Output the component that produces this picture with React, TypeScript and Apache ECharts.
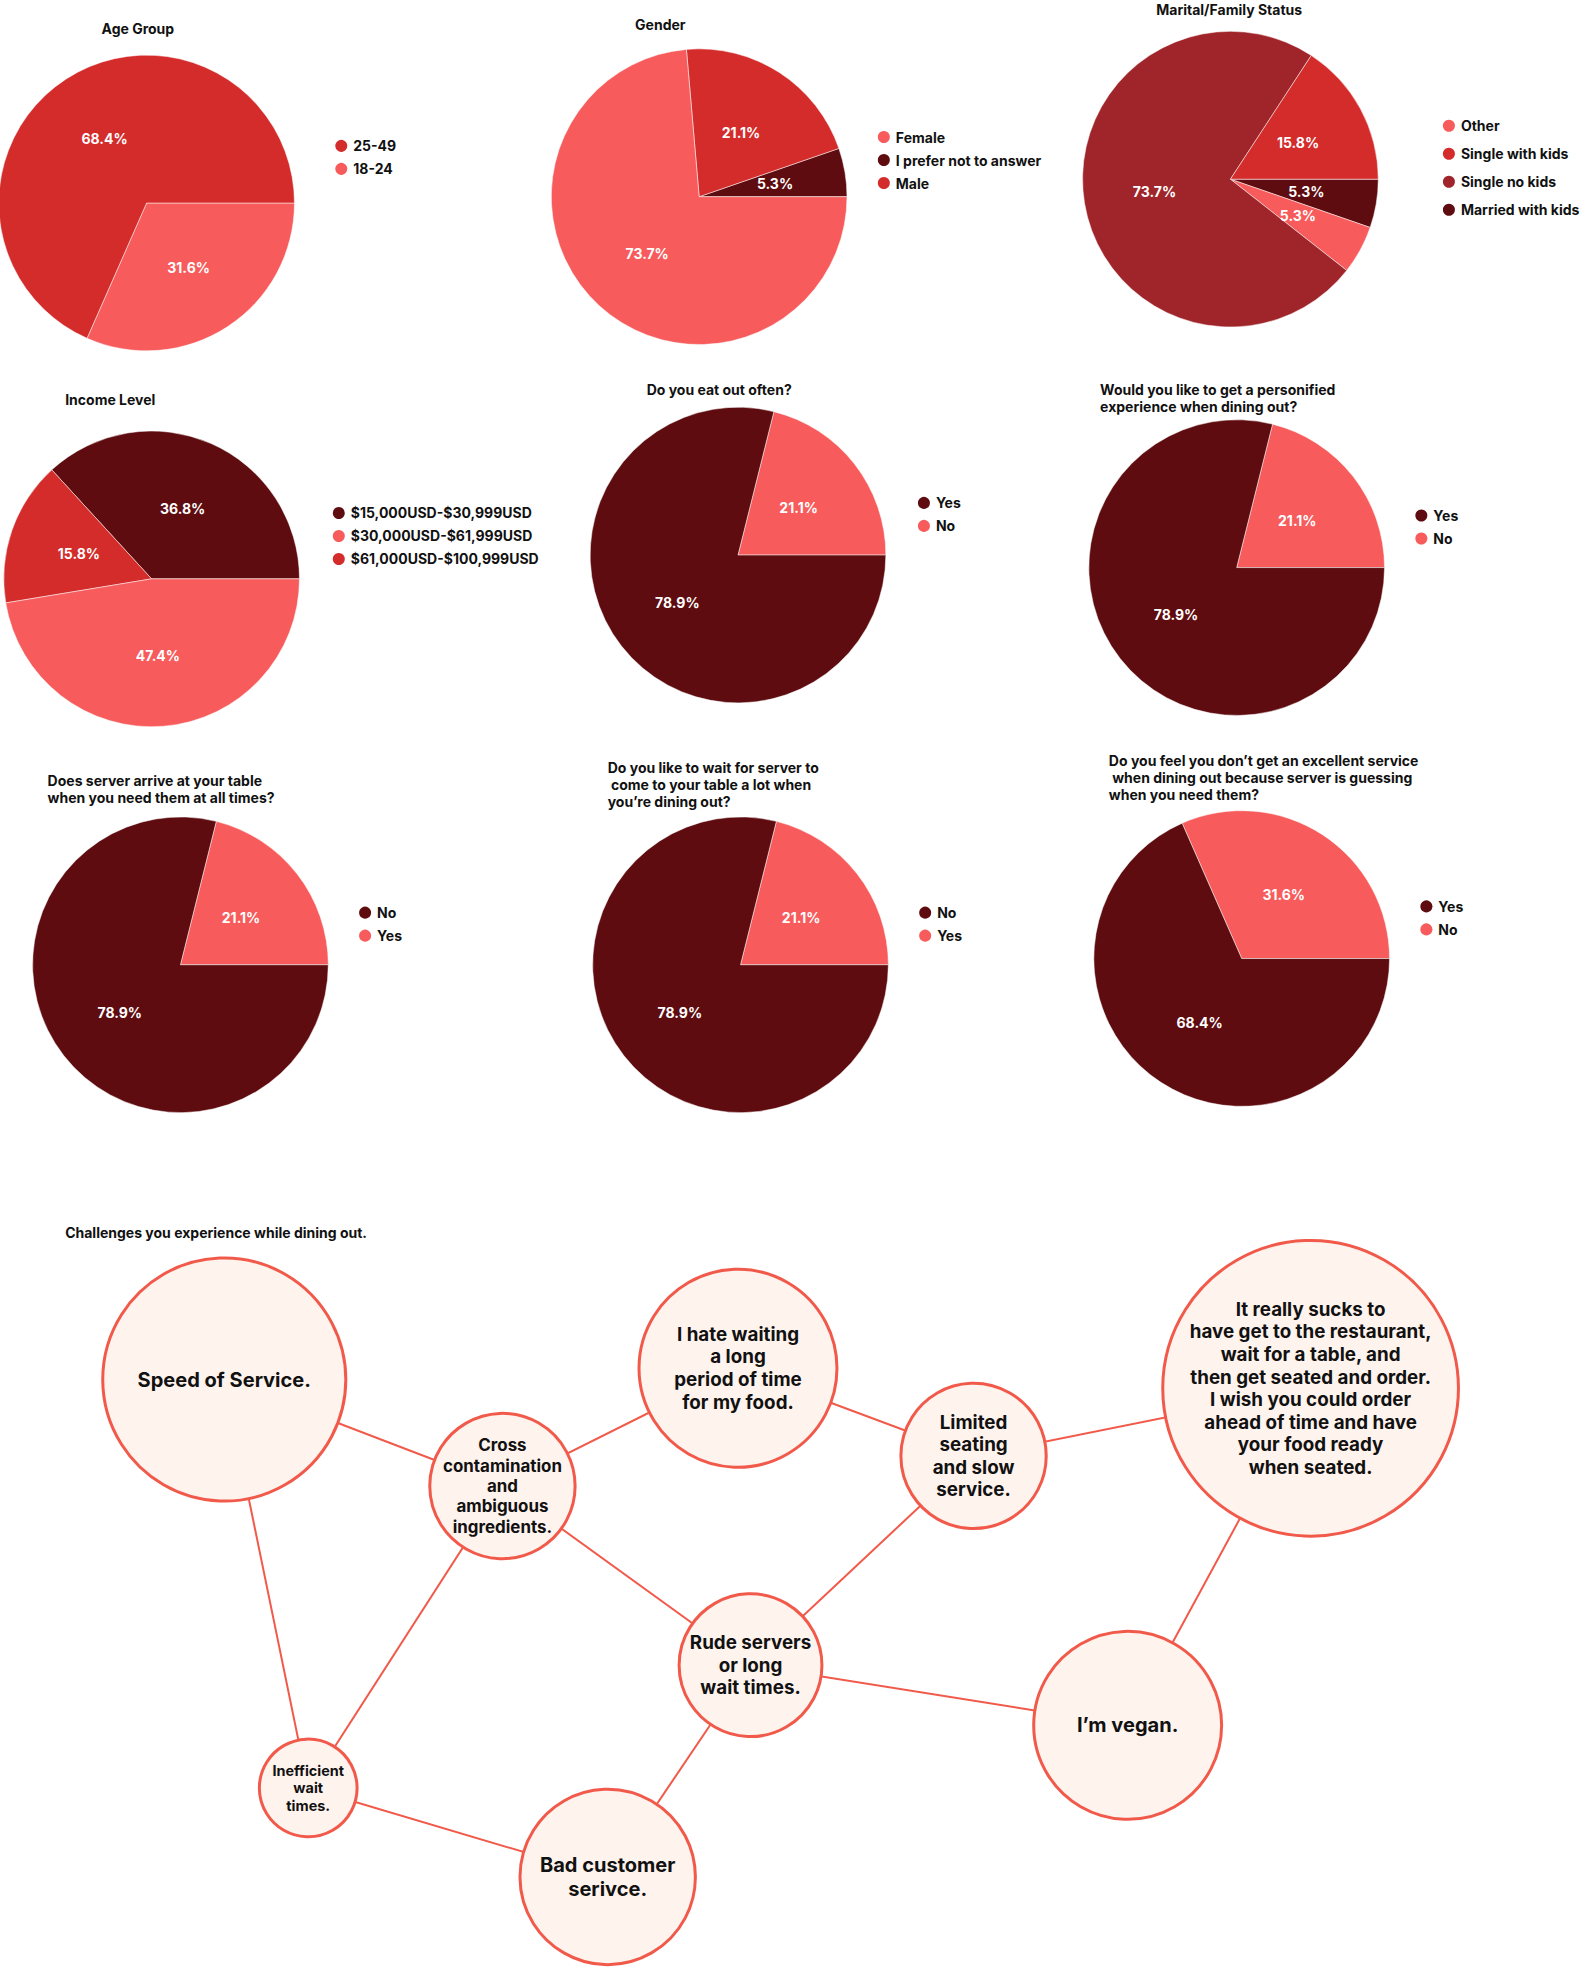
import { useEffect, useRef } from "react";
import * as echarts from "echarts";

// reference was laid out at ~1265px wide; scale to the 1585px page
const S = 1585 / 1265;

const PINK = "#F75B5B";
const RED = "#D42B2B";
const MAROON = "#A0252A";
const DARK = "#5E0C0F";
const LINE = "#F15A4A";

const ageNames = ["18-24", "25-49"];
const ageValues = [31.6, 68.4];
const genderNames = ["I prefer not to answer", "Male", "Female"];
const genderValues = [5.3, 21.1, 73.7];
const maritalNames = ["Married with kids", "Other", "Single no kids", "Single with kids"];
const maritalValues = [5.3, 5.3, 73.7, 15.8];
const incomeNames = ["$15,000USD-$30,999USD", "$61,000USD-$100,999USD", "$30,000USD-$61,999USD"];
const incomeValues = [36.8, 15.8, 47.4];
const yesNoValues = [21.1, 78.9];
const excellentValues = [31.6, 68.4];

type PieDef = {
  title: string;
  tx: number; ty: number; align: "left" | "center";
  cx: number; cy: number;
  lx: number; ly: number; gap: number;
  names: string[]; values: number[]; colors: string[];
  legend: string[];
  clockwise: boolean;
};

const pies: PieDef[] = [
  { title: "Age Group", tx: 110, ty: 16, align: "center", cx: 117, cy: 162, lx: 266, ly: 110, gap: 7,
    names: ageNames, values: ageValues, colors: [PINK, RED], legend: ["25-49", "18-24"], clockwise: true },
  { title: "Gender", tx: 527, ty: 13, align: "center", cx: 558, cy: 157, lx: 699, ly: 103, gap: 7,
    names: genderNames, values: genderValues, colors: [DARK, RED, PINK],
    legend: ["Female", "I prefer not to answer", "Male"], clockwise: false },
  { title: "Marital/Family Status", tx: 981, ty: 1, align: "center", cx: 982, cy: 143, lx: 1150, ly: 94, gap: 12,
    names: maritalNames, values: maritalValues, colors: [DARK, PINK, MAROON, RED],
    legend: ["Other", "Single with kids", "Single no kids", "Married with kids"], clockwise: true },
  { title: "Income Level", tx: 88, ty: 312, align: "center", cx: 121, cy: 462, lx: 264, ly: 403, gap: 7,
    names: incomeNames, values: incomeValues, colors: [DARK, RED, PINK],
    legend: ["$15,000USD-$30,999USD", "$30,000USD-$61,999USD", "$61,000USD-$100,999USD"], clockwise: false },
  { title: "Do you eat out often?", tx: 574, ty: 304, align: "center", cx: 589, cy: 443, lx: 731, ly: 395, gap: 7,
    names: ["No", "Yes"], values: yesNoValues, colors: [PINK, DARK], legend: ["Yes", "No"], clockwise: false },
  { title: "Would you like to get a personified\nexperience when dining out?", tx: 878, ty: 304, align: "left",
    cx: 987, cy: 453, lx: 1128, ly: 405, gap: 7,
    names: ["No", "Yes"], values: yesNoValues, colors: [PINK, DARK], legend: ["Yes", "No"], clockwise: false },
  { title: "Does server arrive at your table\nwhen you need them at all times?", tx: 38, ty: 616, align: "left",
    cx: 144, cy: 770, lx: 285, ly: 722, gap: 7,
    names: ["Yes", "No"], values: yesNoValues, colors: [PINK, DARK], legend: ["No", "Yes"], clockwise: false },
  { title: "Do you like to wait for server to\n come to your table a lot when\nyou’re dining out?", tx: 485, ty: 606,
    align: "left", cx: 591, cy: 770, lx: 732, ly: 722, gap: 7,
    names: ["Yes", "No"], values: yesNoValues, colors: [PINK, DARK], legend: ["No", "Yes"], clockwise: false },
  { title: "Do you feel you don’t get an excellent service\n when dining out because server is guessing\nwhen you need them?",
    tx: 885, ty: 600, align: "left", cx: 991, cy: 765, lx: 1132, ly: 717, gap: 7,
    names: ["No", "Yes"], values: excellentValues, colors: [PINK, DARK], legend: ["Yes", "No"], clockwise: false },
];

const nodeNames = [
  "Speed of Service.",
  "Cross\ncontamination\nand\nambiguous\ningredients.",
  "I hate waiting\na long\nperiod of time\nfor my food.",
  "Limited\nseating\nand slow\nservice.",
  "It really sucks to\nhave get to the restaurant,\nwait for a table, and\nthen get seated and order.\nI wish you could order\nahead of time and have\nyour food ready\nwhen seated.",
  "Rude servers\nor long\nwait times.",
  "I’m vegan.",
  "Inefficient\nwait\ntimes.",
  "Bad customer\nserivce.",
];
const nodeX = [179, 401, 589, 777, 1046, 599, 900, 246, 485];
const nodeY = [1101, 1186, 1092, 1162, 1108, 1329, 1377, 1427, 1498];
const nodeR = [97, 58, 79, 58, 118, 57, 75, 39, 70];
const nodeFont = [16, 13.5, 15, 15, 15, 15, 16, 11.5, 16];
const edges: [number, number][] = [
  [0, 1], [0, 7], [1, 2], [1, 5], [1, 7], [2, 3], [3, 4], [3, 5], [4, 6], [5, 6], [5, 8], [7, 8],
];

const W = 1585;
const H = 1967;
const FONT = "Inter, 'Noto Sans', sans-serif";

function pieOption(p: PieDef) {
  return {
    animation: false,
    title: {
      text: p.title,
      left: p.tx * S,
      top: p.ty * S,
      textAlign: p.align,
      padding: 0,
      textStyle: { fontFamily: FONT, fontSize: 14, fontWeight: "bold", color: "#111", lineHeight: 17 },
    },
    legend: {
      orient: "vertical",
      left: p.lx * S,
      top: p.ly * S,
      padding: 0,
      icon: "circle",
      itemWidth: 14,
      itemHeight: 14,
      itemGap: p.gap,
      data: p.legend,
      textStyle: { fontFamily: FONT, fontSize: 14, fontWeight: "bold", color: "#111" },
    },
    series: [
      {
        type: "pie",
        center: [p.cx * S, p.cy * S],
        radius: 118 * S,
        startAngle: 0,
        clockwise: p.clockwise,
        silent: true,
        itemStyle: { borderColor: "#fff", borderWidth: 0.5 },
        label: {
          position: "inside",
          formatter: (d: any) => d.value.toFixed(1) + "%",
          color: "#fff",
          fontFamily: FONT,
          fontSize: 14,
          fontWeight: "bold",
        },
        data: p.names.map((n, i) => ({ name: n, value: p.values[i], itemStyle: { color: p.colors[i] } })),
      },
    ],
  };
}

function graphOption() {
  return {
    animation: false,
    title: {
      text: "Challenges you experience while dining out.",
      left: 52 * S,
      top: 978 * S,
      padding: 0,
      textStyle: { fontFamily: FONT, fontSize: 14, fontWeight: "bold", color: "#111" },
    },
    grid: { left: 0, top: 0, width: W, height: H },
    xAxis: { type: "value", min: 0, max: W, show: false },
    yAxis: { type: "value", min: 0, max: H, inverse: true, show: false },
    series: [
      {
        type: "graph",
        coordinateSystem: "cartesian2d",
        silent: true,
        itemStyle: { color: "#FFF3EE", borderColor: LINE, borderWidth: 3 },
        lineStyle: { color: LINE, width: 2, opacity: 1 },
        label: {
          show: true,
          position: "inside",
          color: "#111",
          fontFamily: FONT,
          fontWeight: "bold",
          align: "center",
        },
        data: nodeNames.map((n, i) => ({
          name: n,
          value: [nodeX[i] * S, nodeY[i] * S],
          symbolSize: nodeR[i] * 2 * S,
          label: { fontSize: nodeFont[i] * S, lineHeight: nodeFont[i] * S * 1.2 },
        })),
        links: edges.map(([a, b]) => ({ source: nodeNames[a], target: nodeNames[b] })),
      },
    ],
  };
}

function Layer({ option }: { option: any }) {
  const ref = useRef<HTMLDivElement>(null);
  useEffect(() => {
    const chart = echarts.init(ref.current, undefined, { renderer: "svg" });
    chart.setOption(option);
    return () => chart.dispose();
  }, [option]);
  return (
    <div
      ref={ref}
      style={{ position: "absolute", left: 0, top: 0, width: W, height: H, pointerEvents: "none" }}
    />
  );
}

const options = [...pies.map(pieOption), graphOption()];

export default function App() {
  return (
    <div style={{ position: "absolute", left: 0, top: 0, width: W, height: H, background: "#fff" }}>
      {options.map((o, i) => (
        <Layer key={i} option={o} />
      ))}
    </div>
  );
}
